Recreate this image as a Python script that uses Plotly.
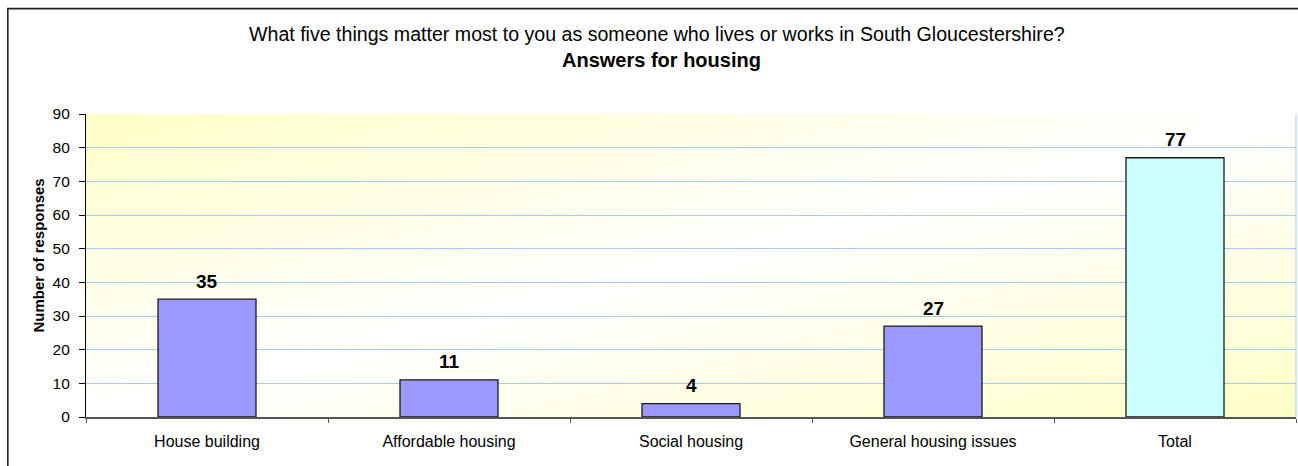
import base64
import plotly.graph_objects as go

categories = ["House building", "Affordable housing", "Social housing", "General housing issues", "Total"]
responses = [35, 11, 4, 27, 77]
bar_colors = ["#9999FF", "#9999FF", "#9999FF", "#9999FF", "#CCFFFF"]
y_ticks = [0, 10, 20, 30, 40, 50, 60, 70, 80, 90]

title_line1 = "What five things matter most to you as someone who lives or works in South Gloucestershire?"
title_line2 = "Answers for housing"
y_title = "Number of responses"

FONT = "Arial, Liberation Sans, sans-serif"

W, H = 1298, 466
L, R, T, B = 86, 2, 114, 49
pw = W - L - R
ph = H - T - B


def px_x(page_x):
    return (page_x - L) / pw


def px_y(page_y):
    return (H - B - page_y) / ph


svg = (
    "<svg xmlns='http://www.w3.org/2000/svg' width='1210' height='303' preserveAspectRatio='none'>"
    "<defs><linearGradient id='g' x1='0' y1='0' x2='1' y2='1'>"
    "<stop offset='0' stop-color='#FFFFC8'/>"
    "<stop offset='0.5' stop-color='#FFFFFF'/>"
    "<stop offset='1' stop-color='#FFFFC8'/>"
    "</linearGradient></defs>"
    "<rect x='0' y='0' width='1210' height='303' fill='url(#g)'/></svg>"
)
svg_uri = "data:image/svg+xml;base64," + base64.b64encode(svg.encode()).decode()

fig = go.Figure()
fig.add_trace(go.Bar(
    x=categories,
    y=responses,
    width=0.405,
    marker=dict(color=bar_colors, line=dict(color="#1a1a1a", width=1.3)),
    hoverinfo="x+y",
))

label_annotations = [
    dict(x=c, y=v, xref="x", yref="y", text="<b>%d</b>" % v, showarrow=False,
         xanchor="center", yanchor="middle", yshift=18,
         font=dict(family=FONT, size=19, color="#000000"))
    for c, v in zip(categories, responses)
]

fig.update_layout(
    width=W, height=H,
    margin=dict(l=L, r=R, t=T, b=B),
    paper_bgcolor="#FFFFFF",
    plot_bgcolor="rgba(0,0,0,0)",
    font=dict(family=FONT, size=16, color="#000000"),
    showlegend=False,
    images=[dict(source=svg_uri, xref="paper", yref="paper", x=0, y=1,
                 sizex=1, sizey=1, sizing="stretch", xanchor="left", yanchor="top",
                 layer="below")],
    xaxis=dict(
        type="category",
        showgrid=False,
        showline=True, linecolor="#555555", linewidth=1.5,
        ticks="outside", tickson="boundaries", ticklen=4, tickcolor="#555555", tickwidth=1,
        tickfont=dict(family=FONT, size=16, color="#000000"),
        ticklabelstandoff=9,
        range=[-0.5, 4.5],
        fixedrange=True,
    ),
    yaxis=dict(
        range=[0, 90],
        tickvals=y_ticks,
        showgrid=True, gridcolor="#A6CAF0", gridwidth=1,
        zeroline=False,
        showline=True, linecolor="#000000", linewidth=1.2,
        ticks="outside", ticklen=6, tickcolor="#000000",
        tickfont=dict(family=FONT, size=15.5, color="#000000"),
        ticklabelstandoff=6,
        fixedrange=True,
    ),
    shapes=[
        dict(type="line", xref="paper", yref="paper", x0=1, x1=1, y0=0, y1=1,
             line=dict(color="#A6CAF0", width=1)),
        dict(type="rect", xref="paper", yref="paper",
             x0=px_x(7.8), x1=px_x(1320), y0=px_y(8.6), y1=px_y(490),
             line=dict(color="#222222", width=1.6), fillcolor="rgba(0,0,0,0)",
             layer="above"),
    ],
    annotations=[
        dict(text=title_line1, xref="paper", yref="paper", x=px_x(657), y=px_y(34),
             xanchor="center", yanchor="middle", showarrow=False,
             font=dict(family=FONT, size=19.6, color="#000000")),
        dict(text="<b>" + title_line2 + "</b>", xref="paper", yref="paper",
             x=px_x(661), y=px_y(60.5), xanchor="center", yanchor="middle", showarrow=False,
             font=dict(family=FONT, size=20, color="#000000")),
        dict(text="<b>" + y_title + "</b>", xref="paper", yref="paper",
             x=px_x(37.5), y=px_y(256), xanchor="center", yanchor="middle", textangle=-90,
             showarrow=False, font=dict(family=FONT, size=15, color="#000000")),
    ] + label_annotations,
)

fig.write_html(
    "out.html",
    config={"displayModeBar": False},
    post_script=(
        "document.body.style.margin='0';"
        "document.body.style.overflow='hidden';"
        "document.documentElement.style.overflow='hidden';"
    ),
)
